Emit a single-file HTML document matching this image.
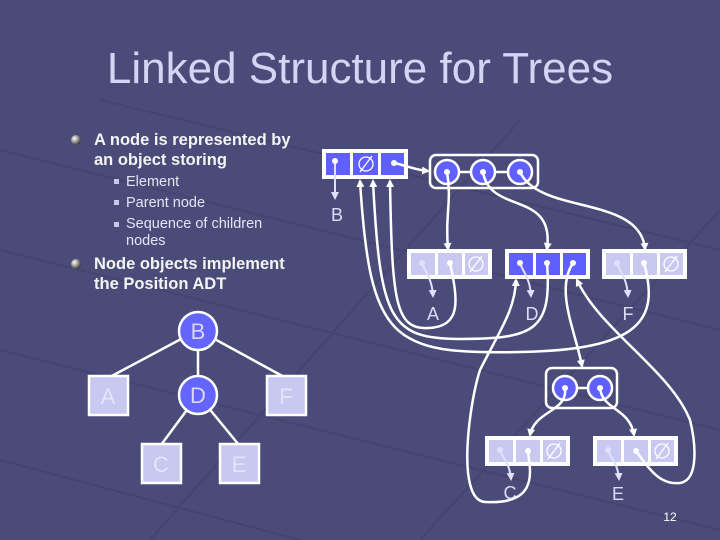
<!DOCTYPE html>
<html><head><meta charset="utf-8"><style>
body{margin:0;background:#4b4b79;}
svg{display:block;font-family:"Liberation Sans",sans-serif;}
</style></head><body>
<svg width="720" height="540" viewBox="0 0 720 540" xmlns="http://www.w3.org/2000/svg">
<defs>
<marker id="ar" markerWidth="8" markerHeight="8" refX="6" refY="4" orient="auto" markerUnits="userSpaceOnUse"><path d="M0,0 L8,4 L0,8 z" fill="#fff"/></marker>
<marker id="al" markerWidth="8" markerHeight="8" refX="6" refY="4" orient="auto" markerUnits="userSpaceOnUse"><path d="M0,0 L8,4 L0,8 z" fill="#e0e0ff"/></marker>
<radialGradient id="sp" cx="0.35" cy="0.35" r="0.7"><stop offset="0" stop-color="#fff"/><stop offset="1" stop-color="#333"/></radialGradient>
</defs>
<rect width="720" height="540" fill="#4b4b79"/>
<g stroke="#43436c" stroke-width="2" fill="none" opacity="0.8">
<path d="M0,150 L720,330"/><path d="M0,250 L720,430"/><path d="M0,350 L720,530"/><path d="M100,100 L720,250"/>
<path d="M0,460 L300,540"/><path d="M150,540 L520,120"/><path d="M420,540 L720,210"/>
</g>
<text x="360" y="83" text-anchor="middle" font-size="44" fill="#d4d4f4">Linked Structure for Trees</text>
<circle cx="76" cy="140" r="5" fill="url(#sp)"/>
<circle cx="76" cy="264" r="5" fill="url(#sp)"/>
<g font-size="16.5" font-weight="bold" fill="#f4f4f4">
<text x="94" y="145">A node is represented by</text>
<text x="94" y="165">an object storing</text>
<text x="94" y="269">Node objects implement</text>
<text x="94" y="289">the Position ADT</text>
</g>
<g fill="#c8c8e8"><rect x="114" y="179" width="5" height="5"/><rect x="114" y="200" width="5" height="5"/><rect x="114" y="222" width="5" height="5"/></g>
<g font-size="14.5" fill="#e4e4f4">
<text x="126" y="186">Element</text>
<text x="126" y="207">Parent node</text>
<text x="126" y="228">Sequence of children</text>
<text x="126" y="245">nodes</text>
</g>
<g stroke="#fff" stroke-width="2.5">
<line x1="198" y1="330" x2="108" y2="378"/><line x1="198" y1="330" x2="198" y2="395"/><line x1="198" y1="330" x2="286" y2="378"/>
<line x1="198" y1="395" x2="161" y2="445"/><line x1="198" y1="395" x2="239" y2="445"/>
</g>
<g stroke="#fff" stroke-width="2.5" fill="#c8c8f0">
<rect x="89" y="376" width="39" height="39"/><rect x="267" y="376" width="39" height="39"/>
<rect x="142" y="444" width="39" height="39"/><rect x="220" y="444" width="39" height="39"/>
</g>
<g stroke="#fff" stroke-width="2.5" fill="#6464ff"><circle cx="198" cy="331" r="19"/><circle cx="198" cy="395" r="19"/></g>
<g font-size="22" text-anchor="middle" fill="#d8d8f8">
<text x="198" y="339">B</text><text x="198" y="403">D</text>
</g>
<g font-size="22" text-anchor="middle" fill="#e4e4fa">
<text x="108" y="404">A</text><text x="286" y="404">F</text><text x="161" y="472">C</text><text x="239" y="472">E</text>
</g>
<g stroke="#fff" stroke-width="2">
<rect x="323" y="150" width="84" height="28" fill="#fff"/>
<rect x="408" y="250" width="83" height="28" fill="#fff"/>
<rect x="506" y="250" width="83" height="28" fill="#fff"/>
<rect x="603" y="250" width="83" height="28" fill="#fff"/>
<rect x="486" y="437" width="83" height="28" fill="#fff"/>
<rect x="594" y="437" width="83" height="28" fill="#fff"/>
</g>
<g fill="#5f5fff">
<rect x="326" y="153" width="24" height="22"/><rect x="353" y="153" width="25" height="22"/><rect x="381" y="153" width="23" height="22"/>
<rect x="509" y="253" width="24" height="22"/><rect x="536" y="253" width="24" height="22"/><rect x="563" y="253" width="23" height="22"/>
</g>
<g fill="#c8c8f0">
<rect x="411" y="253" width="24" height="22"/><rect x="438" y="253" width="24" height="22"/><rect x="465" y="253" width="23" height="22"/>
<rect x="606" y="253" width="24" height="22"/><rect x="633" y="253" width="24" height="22"/><rect x="660" y="253" width="23" height="22"/>
<rect x="489" y="440" width="24" height="22"/><rect x="516" y="440" width="24" height="22"/><rect x="543" y="440" width="23" height="22"/>
<rect x="597" y="440" width="24" height="22"/><rect x="624" y="440" width="24" height="22"/><rect x="651" y="440" width="23" height="22"/>
</g>
<g stroke="#fff" stroke-width="1.3" fill="none">
<circle cx="366" cy="164" r="7"/><line x1="360" y1="172" x2="372" y2="156"/>
<circle cx="476" cy="264" r="7"/><line x1="470" y1="272" x2="482" y2="256"/>
<circle cx="671" cy="264" r="7"/><line x1="665" y1="272" x2="677" y2="256"/>
<circle cx="554" cy="451" r="7"/><line x1="548" y1="459" x2="560" y2="443"/>
<circle cx="662" cy="451" r="7"/><line x1="656" y1="459" x2="668" y2="443"/>
</g>
<g stroke="#fff" stroke-width="2.5" fill="none">
<rect x="430" y="155" width="108" height="33" rx="6"/>
<rect x="546" y="368" width="71" height="40" rx="6"/>
<line x1="447" y1="172" x2="520" y2="172"/><line x1="565" y1="388" x2="600" y2="388"/>
</g>
<g stroke="#fff" stroke-width="2.5" fill="#6060ff">
<circle cx="447" cy="172" r="12"/><circle cx="483" cy="172" r="12"/><circle cx="520" cy="172" r="12"/>
<circle cx="565" cy="388" r="12"/><circle cx="600" cy="388" r="12"/>
</g>
<g stroke="#e0e0ff" stroke-width="2" fill="none" marker-end="url(#al)">
<path d="M335,161 L335,198"/>
<path d="M422,263 C425,272 432,278 433,296"/>
<path d="M520,263 C523,272 530,278 531,296"/>
<path d="M617,263 C620,272 627,278 628,296"/>
<path d="M500,450 C503,459 510,464 511,479"/>
<path d="M608,450 C611,459 618,464 619,479"/>
</g>
<g font-size="18" text-anchor="middle" fill="#dcdcf8">
<text x="337" y="221">B</text><text x="433" y="320">A</text><text x="532" y="320">D</text><text x="628" y="320">F</text>
<text x="510" y="499">C</text><text x="618" y="500">E</text>
</g>
<g stroke="#fff" stroke-width="2.5" fill="none" marker-end="url(#ar)">
<path d="M394,163 C405,165 415,170 428,171"/>
<path d="M447,172 C452,200 445,215 448,249"/>
<path d="M483,172 C490,215 555,190 547,249"/>
<path d="M520,172 C540,215 640,195 645,249"/>
<path d="M450,263 C458,300 462,327 428,328 C395,330 392,300 390,181"/>
<path d="M547,263 C552,330 535,339 460,339 C390,339 380,320 373,181"/>
<path d="M644,263 C660,320 640,350 520,352 C390,355 370,340 360,181"/>
<path d="M573,263 C555,290 575,330 582,366"/>
<path d="M565,388 C568,412 535,410 530,435"/>
<path d="M600,388 C602,410 630,408 634,435"/>
<path d="M528,451 C530,470 540,505 485,502 C455,500 470,400 480,370 C500,330 515,310 516,280"/>
<path d="M636,451 C650,470 660,485 680,483 C700,480 695,440 690,420 C670,370 600,330 577,280"/>
</g>
<g fill="#fff">
<circle cx="335" cy="161" r="3"/><circle cx="394" cy="163" r="3"/>
<circle cx="422" cy="263" r="3" fill="#e0e0ff"/><circle cx="450" cy="263" r="3"/>
<circle cx="520" cy="263" r="3"/><circle cx="547" cy="263" r="3"/><circle cx="573" cy="263" r="3"/>
<circle cx="617" cy="263" r="3" fill="#e0e0ff"/><circle cx="644" cy="263" r="3"/>
<circle cx="500" cy="450" r="3" fill="#e0e0ff"/><circle cx="528" cy="451" r="3"/>
<circle cx="608" cy="450" r="3" fill="#e0e0ff"/><circle cx="636" cy="451" r="3"/>
<circle cx="447" cy="172" r="3"/><circle cx="483" cy="172" r="3"/><circle cx="520" cy="172" r="3"/>
<circle cx="565" cy="388" r="3"/><circle cx="600" cy="388" r="3"/>
</g>
<text x="670" y="521" text-anchor="middle" font-size="12" fill="#fff">12</text>
</svg>
</body></html>
